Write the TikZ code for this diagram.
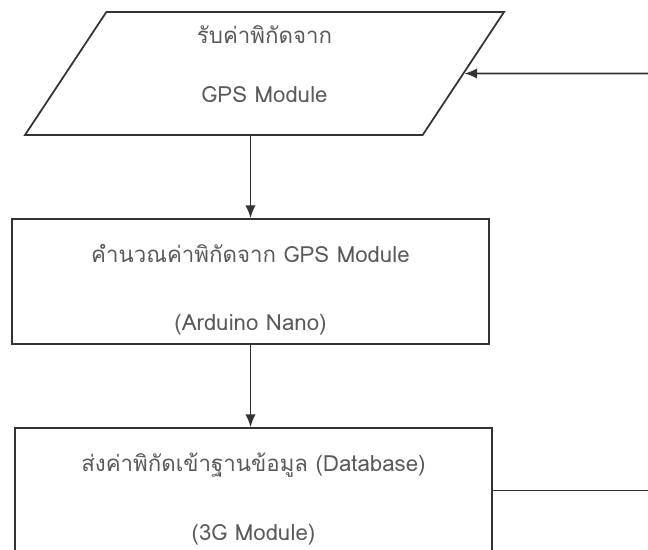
\documentclass[tikz,border=0pt]{standalone}
\usepackage{fontspec}
\newfontfamily\thaifont[Script=Thai]{Loma}
\usetikzlibrary{arrows.meta,positioning,shapes.geometric}
\definecolor{LineGray}{HTML}{333333}
\definecolor{TextGray}{HTML}{5A5A5A}

\begin{document}
\begin{tikzpicture}[
  x=0.03cm, y=-0.03cm,
  io/.style={trapezium, trapezium left angle=51.7, trapezium right angle=128.3, trapezium stretches body, draw=LineGray, line width=1.5pt, minimum width=14.37cm, minimum height=3.69cm, align=center, text=TextGray, font=\thaifont\fontsize{19}{22}\selectfont},
  box/.style={draw=LineGray, line width=1.5pt, minimum width=14.31cm, minimum height=3.75cm, align=center, text=TextGray, font=\thaifont\fontsize{19}{22}\selectfont},
  arr/.style={-{Latex[length=3.8mm,width=3.1mm]}, line width=1.5pt, LineGray},
  ln/.style={line width=1.5pt, LineGray}
]
\useasboundingbox (0,0) rectangle (648,549);
\node[io] (par) at (264.5,73.5) {รับค่าพิกัดจาก\\[28pt]GPS Module\\[-6pt]};
\node[box] (calc) at (250.5,281.5) {\rule{0pt}{30pt}คำนวณค่าพิกัดจาก GPS Module\\[36pt](Arduino Nano)};
\node[box] (send) at (253.5,490.5) {\rule{0pt}{30pt}ส่งค่าพิกัดเข้าฐานข้อมูล (Database)\\[37pt](3G Module)};
\coordinate (loopout) at (660,490.5);
\coordinate (loopin) at (660,73.5);
\draw[arr] (calc.north |- par.south) -- (calc.north);
\draw[arr] (calc.south) -- (calc.south |- send.north);
\draw[ln] (send.east) -- (loopout);
\draw[arr] (loopin) -- (par);
\end{tikzpicture}
\end{document}
